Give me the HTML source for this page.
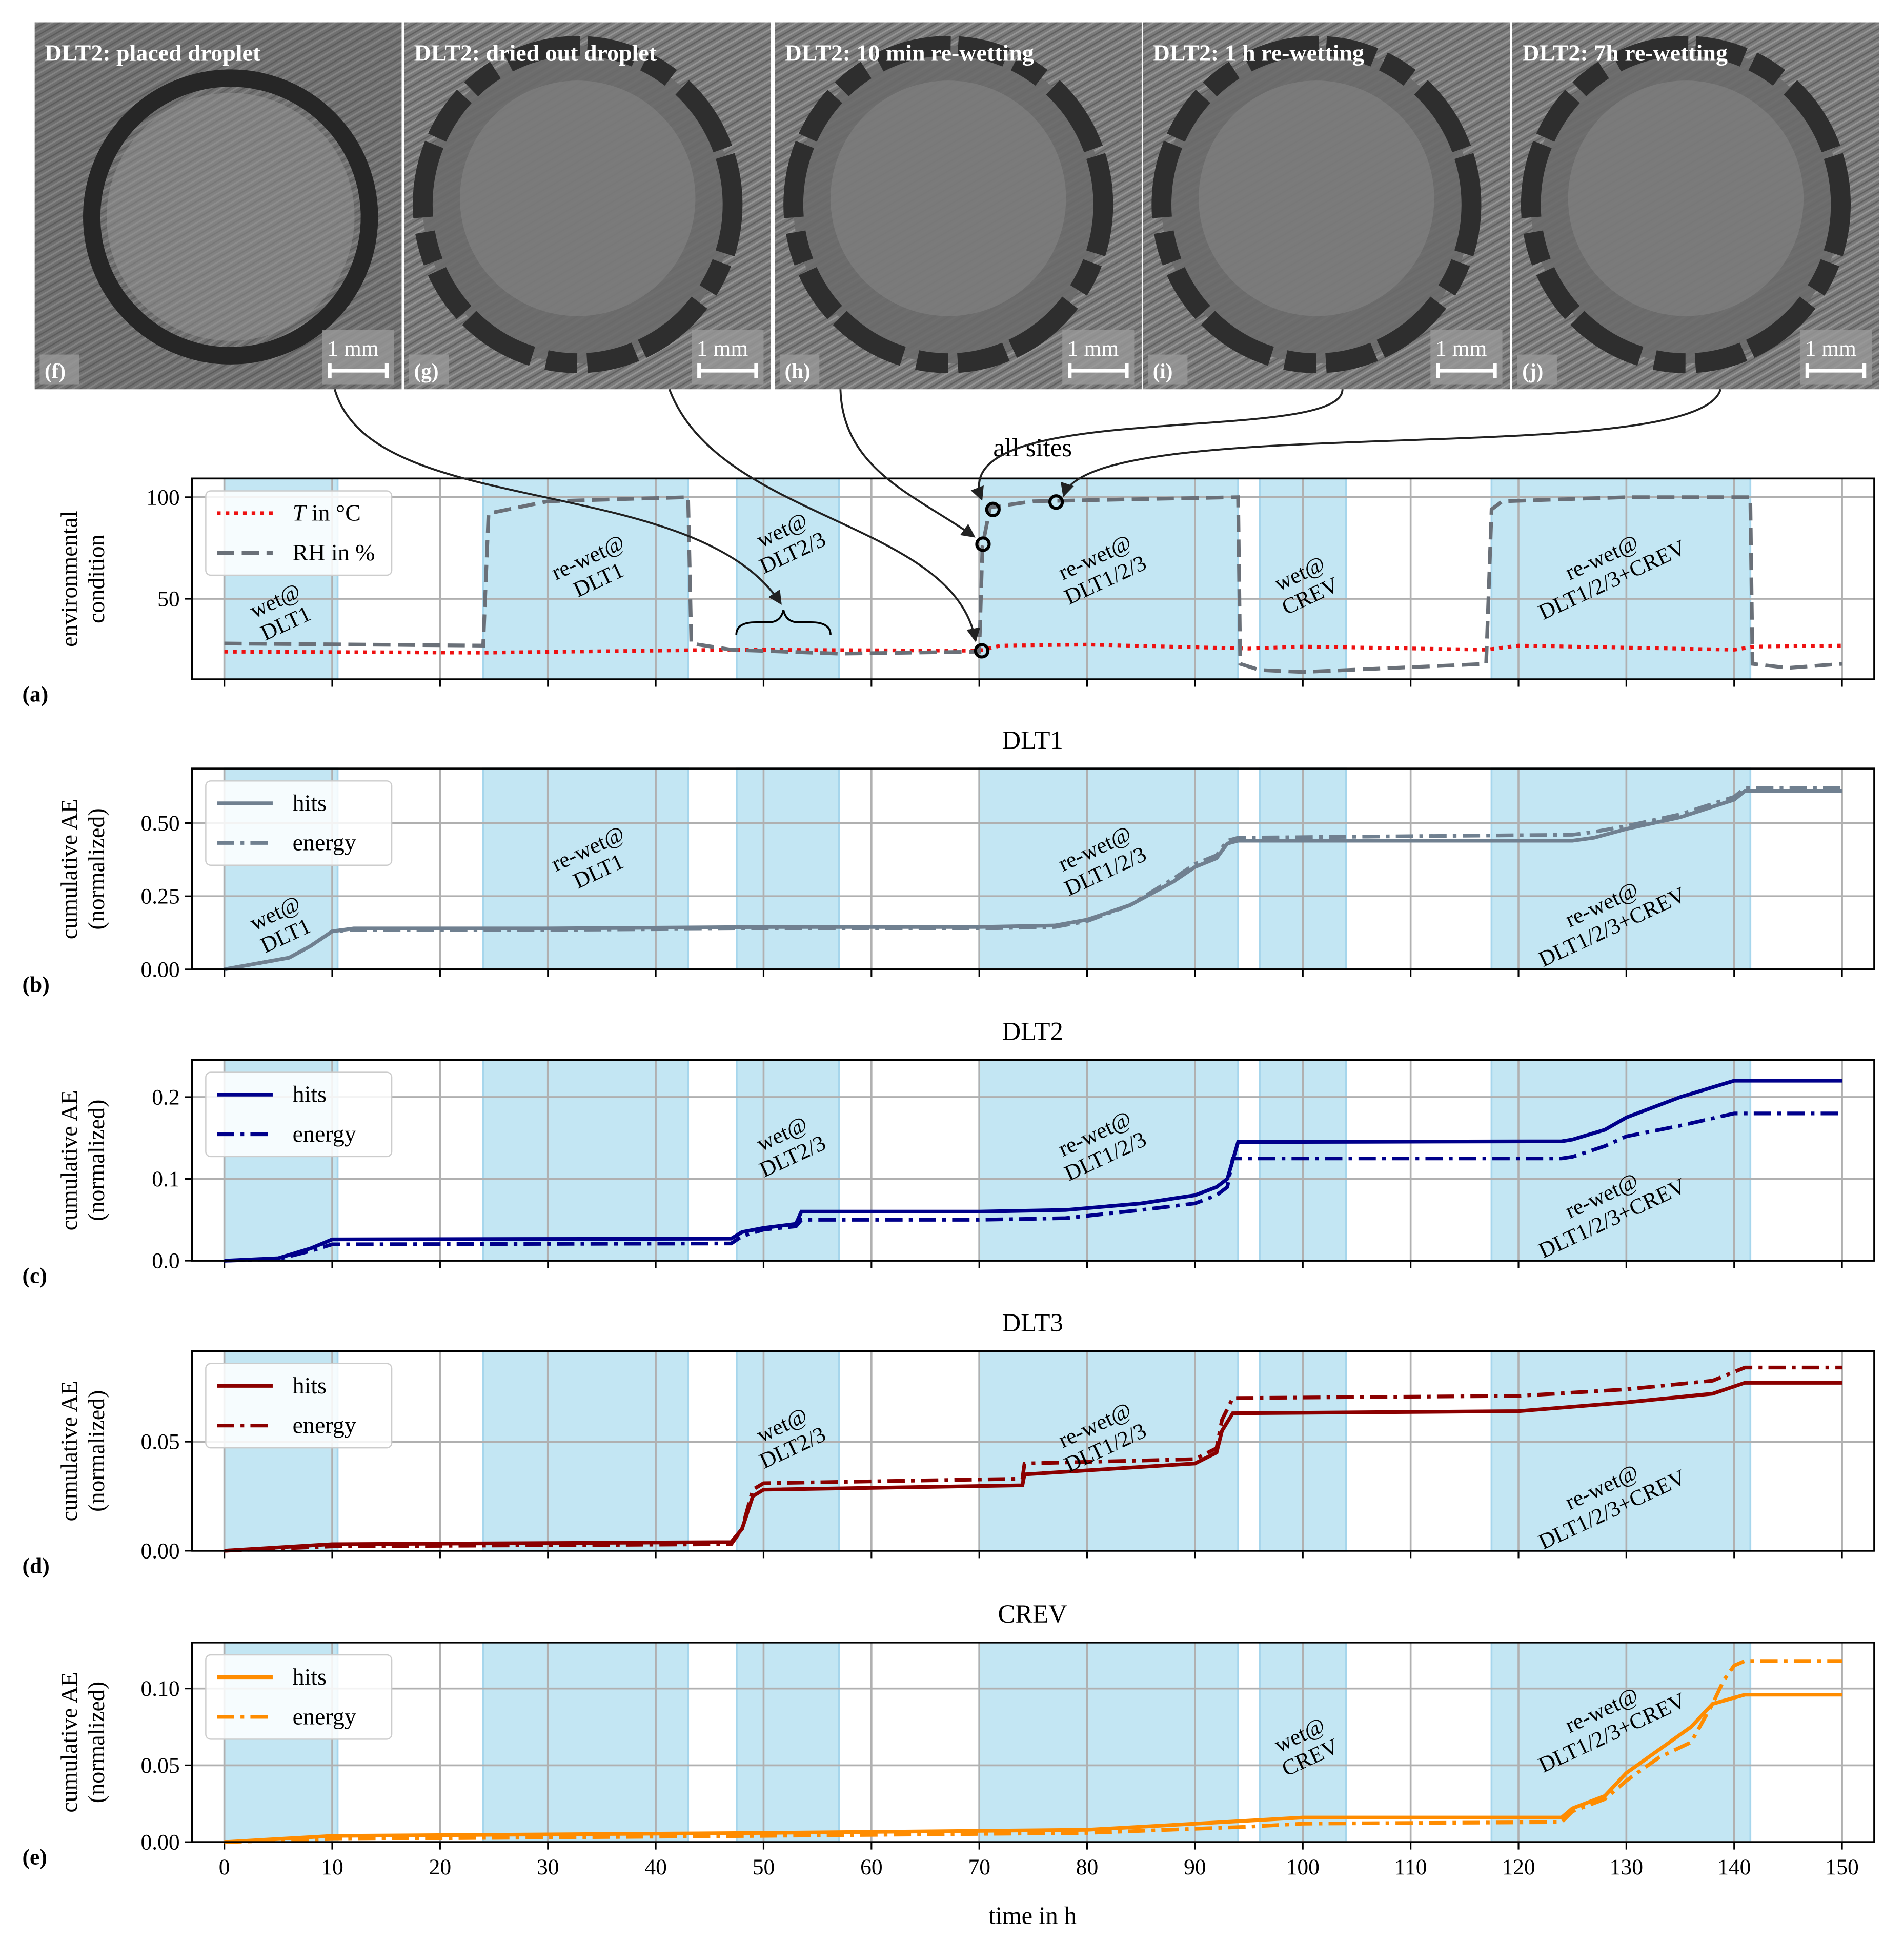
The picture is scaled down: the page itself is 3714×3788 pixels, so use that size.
<!DOCTYPE html>
<html><head><meta charset="utf-8"><style>
html,body{margin:0;padding:0;background:#fff}
svg{display:block;font-family:"Liberation Serif",serif}
</style></head><body>
<svg id="fig" xmlns="http://www.w3.org/2000/svg" width="3714" height="3788" viewBox="0 0 1536 1566.6">
<defs>
<pattern id="scr" width="6" height="6" patternUnits="userSpaceOnUse" patternTransform="rotate(-30)"><rect width="6" height="6" fill="#7a7a7a"/><line x1="0" y1="1" x2="6" y2="1" stroke="#959595" stroke-width="1.2"/><line x1="0" y1="4" x2="6" y2="4" stroke="#5e5e5e" stroke-width="1"/></pattern>
<radialGradient id="dg" cx="45%" cy="45%" r="55%"><stop offset="0" stop-color="#8a8a8a"/><stop offset="0.75" stop-color="#555"/><stop offset="1" stop-color="#2a2a2a"/></radialGradient>
<marker id="ah" viewBox="0 0 10 10" refX="9" refY="5" markerWidth="7" markerHeight="7" orient="auto"><path d="M0 0L10 5L0 10z" fill="#222"/></marker>
</defs>
<g id="photos"></g>
<g id="plots"></g>
</svg>
<script>
// ---------- data ----------
const xTicks=[0,10,20,30,40,50,60,70,80,90,100,110,120,130,140,150];
const spans=[[0,10.5],[24,43],[47.5,57],[70,94],[96,104],[117.5,141.5]];
const tT=[0,24,47,70,72,80,95,100,117,120,140,142,150];
const vT=[24,23.5,25,24.5,27,27.5,25.5,26.5,25,27,25,26.5,27];
const tRH=[0,24,24.5,30,43,43.3,47,57,70,70.3,71,75,94,94.2,96,100,117,117.5,118.5,130,141.5,141.7,145,150];
const vRH=[28,27,92,98,100,28,25,23,24,76,95,98,100,18,15,14,18,94,98,100,100,18,16,18];
const tB1=[0,3,6,8,10,12,30,50,70,77,80,84,88,90,92,93,94,125,127,130,135,140,141,150];
const vB1=[0,0.02,0.04,0.08,0.13,0.14,0.14,0.145,0.145,0.15,0.17,0.22,0.3,0.35,0.38,0.43,0.44,0.44,0.45,0.48,0.52,0.58,0.61,0.61];
const vB2=[0,0.02,0.04,0.08,0.13,0.135,0.135,0.14,0.14,0.145,0.165,0.22,0.31,0.36,0.39,0.44,0.45,0.46,0.47,0.49,0.53,0.59,0.62,0.62];
const tC1=[0,5,8,10,47,48,50,53,53.5,70,78,85,90,92,93,94,124,125,128,130,135,140,150];
const vC1=[0,0.003,0.015,0.026,0.027,0.035,0.04,0.045,0.06,0.06,0.062,0.07,0.08,0.09,0.1,0.145,0.146,0.148,0.16,0.175,0.2,0.22,0.22];
const tC2=[0,5,8,10,47,48,50,53,53.5,70,78,85,90,92,93,93.5,124,125,128,130,135,140,150];
const vC2=[0,0.002,0.012,0.02,0.021,0.03,0.038,0.042,0.05,0.05,0.052,0.062,0.07,0.08,0.09,0.125,0.125,0.127,0.14,0.152,0.165,0.18,0.18];
const tD=[0,10,47,48,49,50,74,74.2,90,92,92.5,93.5,120,130,138,141,150];
const vD1=[0,0.003,0.004,0.01,0.025,0.028,0.03,0.035,0.04,0.045,0.055,0.063,0.064,0.068,0.072,0.077,0.077];
const vD2=[0,0.002,0.003,0.01,0.028,0.031,0.033,0.04,0.042,0.047,0.06,0.07,0.071,0.074,0.078,0.084,0.084];
const tE1=[0,10,50,80,95,100,124,125,128,130,133,136,138,141,150];
const vE1=[0,0.004,0.006,0.008,0.014,0.016,0.016,0.022,0.03,0.045,0.06,0.075,0.09,0.096,0.096];
const tE2=[0,10,50,80,95,100,124,125,128,130,133,136,138,139,140,141,150];
const vE2=[0,0.002,0.004,0.006,0.01,0.012,0.013,0.02,0.028,0.04,0.055,0.065,0.09,0.105,0.115,0.118,0.118];

const NS="http://www.w3.org/2000/svg";
function mk(tag,attrs,parent,text){const e=document.createElementNS(NS,tag);for(const k in attrs)e.setAttribute(k,attrs[k]);if(text!==undefined)e.textContent=text;parent.appendChild(e);return e;}
const X0=155,X1=1512;
const xs=t=>181+(1486-181)*t/150;

// ---------- photos ----------
const ph=document.getElementById('photos');
const titles=["DLT2: placed droplet","DLT2: dried out droplet","DLT2: 10 min re-wetting","DLT2: 1 h re-wetting","DLT2: 7h re-wetting"];
const letters=["(f)","(g)","(h)","(i)","(j)"];
const pxs=[28,326,625,922,1220];
for(let i=0;i<5;i++){
  const g=mk('g',{},ph);
  
  
  const x=pxs[i],w=296;
  mk('rect',{x:x,y:18,width:w,height:296,fill:'url(#scr)'},g);
  if(i===0){mk('rect',{x:x,y:18,width:w,height:296,fill:'#555',opacity:0.25},g);
    mk('circle',{cx:x+158,cy:175,r:112,fill:'none',stroke:'#262626','stroke-width':14},g);
    mk('circle',{cx:x+158,cy:175,r:100,fill:'#9a9a9a',opacity:0.45},g);}
  else{
    mk('ellipse',{cx:x+140,cy:165,rx:125,ry:128,fill:'#6a6a6a',opacity:0.9},g);
    mk('ellipse',{cx:x+140,cy:160,rx:95,ry:95,fill:'#888',opacity:0.5},g);
    mk('ellipse',{cx:x+140,cy:165,rx:125,ry:128,fill:'none',stroke:'#2e2e2e','stroke-width':16,'stroke-dasharray':'40 8 25 12 60 6'},g);
  }
  mk('text',{x:x+8,y:49,fill:'#fff','font-size':19,'font-weight':'bold'},g,titles[i]);
  mk('rect',{x:x+4,y:286,width:32,height:24,fill:'#999',opacity:0.8},g);
  mk('text',{x:x+8,y:305,fill:'#fff','font-size':17,'font-weight':'bold'},g,letters[i]);
  mk('rect',{x:x+232,y:266,width:58,height:44,fill:'#999',opacity:0.8},g);
  mk('text',{x:x+236,y:287,fill:'#fff','font-size':18},g,'1 mm');
  mk('path',{d:`M${x+238} 299h46M${x+238} 293v12M${x+284} 293v12`,stroke:'#fff','stroke-width':3},g);
}

// ---------- plots ----------
const plots=document.getElementById('plots');
function panel(cfg){
  const g=mk('g',{},plots);
  
  
  const ys=v=>cfg.y1-(cfg.y1-cfg.y0)*(v-cfg.vmin)/(cfg.vmax-cfg.vmin);
  for(const s of spans){mk('rect',{x:xs(s[0]),y:cfg.y0,width:xs(s[1])-xs(s[0]),height:cfg.y1-cfg.y0,fill:'#c3e6f3',stroke:'#a6d6ec','stroke-width':1.5},g);}
  for(const t of xTicks){mk('line',{x1:xs(t),x2:xs(t),y1:cfg.y0,y2:cfg.y1,stroke:'#b0b0b0','stroke-width':1.5},g);
    mk('line',{x1:xs(t),x2:xs(t),y1:cfg.y1,y2:cfg.y1+6,stroke:'#000','stroke-width':1.3},g);}
  cfg.yt.forEach((v,i)=>{mk('line',{x1:X0,x2:X1,y1:ys(v),y2:ys(v),stroke:'#b0b0b0','stroke-width':1.5},g);
    mk('line',{x1:X0-6,x2:X0,y1:ys(v),y2:ys(v),stroke:'#000','stroke-width':1.3},g);
    mk('text',{x:X0-10,y:ys(v)+6,'text-anchor':'end','font-size':18},g,cfg.ytl[i]);});
  for(const s of cfg.series){
    const d=s.t.map((t,i)=>(i?'L':'M')+xs(t).toFixed(1)+' '+ys(s.v[i]).toFixed(1)).join('');
    const p=mk('path',{d:d,fill:'none',stroke:s.c,'stroke-width':3,'stroke-dasharray':s.da||'none'},g);
    
    
  }
  mk('rect',{x:X0,y:cfg.y0,width:X1-X0,height:cfg.y1-cfg.y0,fill:'none',stroke:'#000','stroke-width':1.5},g);
  if(cfg.title)mk('text',{x:833,y:cfg.y0-16,'text-anchor':'middle','font-size':21},g,cfg.title);
  const yl=(cfg.y0+cfg.y1)/2;
  mk('text',{x:0,y:0,transform:`translate(62,${yl}) rotate(-90)`,'text-anchor':'middle','font-size':19},g,cfg.yl1);
  mk('text',{x:0,y:0,transform:`translate(84,${yl}) rotate(-90)`,'text-anchor':'middle','font-size':19},g,cfg.yl2);
  mk('text',{x:18,y:cfg.y1+18,'font-size':18,'font-weight':'bold'},g,cfg.letter);
  const lg=mk('g',{},g);
  
  
  mk('rect',{x:166,y:cfg.y0+10,width:150,height:68,rx:4,fill:'#fff','fill-opacity':0.85,stroke:'#ccc'},lg);
  cfg.series.forEach((s,i)=>{const yy=cfg.y0+28+i*32;
    mk('line',{x1:175,x2:220,y1:yy,y2:yy,stroke:s.c,'stroke-width':3,'stroke-dasharray':s.da||'none'},lg);
    mk('text',{x:236,y:yy+6,'font-size':19},lg,s.lab);});
  for(const a of cfg.ann){
    const tx=mk('text',{transform:`translate(${xs(a[0])},${a[1]}) rotate(-25)`,'text-anchor':'middle','font-size':18},g);
    mk('tspan',{x:0,dy:0},tx,a[2]);mk('tspan',{x:0,dy:20},tx,a[3]);
  }
  if(cfg.xlabels){for(const t of xTicks)mk('text',{x:xs(t),y:cfg.y1+26,'text-anchor':'middle','font-size':18},g,String(t));
    mk('text',{x:833,y:cfg.y1+66,'text-anchor':'middle','font-size':20},g,'time in h');}
  return g;
}
const A1=[[5,490,'wet@','DLT1'],[34,455,'re-wet@','DLT1'],[52,433,'wet@','DLT2/3'],[81,455,'re-wet@','DLT1/2/3'],[100,468,'wet@','CREV'],[128,455,'re-wet@','DLT1/2/3+CREV']];
const ga=panel({name:'panel-a-environment',y0:386,y1:548,vmin:10.4,vmax:109.2,yt:[50,100],ytl:['50','100'],yl1:'environmental',yl2:'condition',letter:'(a)',
  series:[{t:tT,v:vT,c:'#ee1111',da:'3 4',lab:'T in °C',nm:'temperature-line'},{t:tRH,v:vRH,c:'#6a7078',da:'14 6',lab:'RH in %',nm:'rh-line'}],ann:A1});
ga.querySelectorAll('text').forEach(t=>{if(t.textContent==='T in °C'){t.textContent='';mk('tspan',{'font-style':'italic'},t,'T');mk('tspan',{},t,' in °C');}});
mk('text',{x:833,y:368,'text-anchor':'middle','font-size':21},ga,'all sites');
[[792,525],[793,439],[801,411],[852,405]].forEach(c=>mk('circle',{cx:c[0],cy:c[1],r:5,fill:'none',stroke:'#000','stroke-width':2.5},ga));
const arr=[[270,314,'C 300,420 560,380 630,487'],[540,314,'C 580,420 770,420 787,517'],[678,314,'C 680,380 740,400 786,433'],[1083,314,'C 1083,360 760,320 792,403'],[1388,314,'C 1370,380 880,330 858,400']];
arr.forEach(a=>{mk('path',{d:`M${a[0]} ${a[1]} ${a[2]}`,fill:'none',stroke:'#222','stroke-width':1.6,'marker-end':'url(#ah)'},ga);});
mk('path',{d:'M594 512 q0 -10 16 -10 h10 q10 0 12 -10 q2 10 12 10 h10 q16 0 16 10',fill:'none',stroke:'#000','stroke-width':1.5},ga);

const A2=[[5,742,'wet@','DLT1'],[34,690,'re-wet@','DLT1'],[81,690,'re-wet@','DLT1/2/3'],[128,735,'re-wet@','DLT1/2/3+CREV']];
panel({name:'panel-b-dlt1',y0:620,y1:782,vmin:0,vmax:0.6864,yt:[0,0.25,0.5],ytl:['0.00','0.25','0.50'],yl1:'cumulative AE',yl2:'(normalized)',letter:'(b)',title:'DLT1',
  series:[{t:tB1,v:vB1,c:'#708090',lab:'hits',nm:'dlt1-hits-line'},{t:tB1,v:vB2,c:'#708090',da:'14 5 3 5',lab:'energy',nm:'dlt1-energy-line'}],ann:A2});
const A3=[[52,920,'wet@','DLT2/3'],[81,920,'re-wet@','DLT1/2/3'],[128,970,'re-wet@','DLT1/2/3+CREV']];
panel({name:'panel-c-dlt2',y0:855,y1:1017,vmin:0,vmax:0.2455,yt:[0,0.1,0.2],ytl:['0.0','0.1','0.2'],yl1:'cumulative AE',yl2:'(normalized)',letter:'(c)',title:'DLT2',
  series:[{t:tC1,v:vC1,c:'#00008b',lab:'hits',nm:'dlt2-hits-line'},{t:tC2,v:vC2,c:'#00008b',da:'14 5 3 5',lab:'energy',nm:'dlt2-energy-line'}],ann:A3});
const A4=[[52,1155,'wet@','DLT2/3'],[81,1155,'re-wet@','DLT1/2/3'],[128,1205,'re-wet@','DLT1/2/3+CREV']];
panel({name:'panel-d-dlt3',y0:1090,y1:1251,vmin:0,vmax:0.0915,yt:[0,0.05],ytl:['0.00','0.05'],yl1:'cumulative AE',yl2:'(normalized)',letter:'(d)',title:'DLT3',
  series:[{t:tD,v:vD1,c:'#8b0000',lab:'hits',nm:'dlt3-hits-line'},{t:tD,v:vD2,c:'#8b0000',da:'14 5 3 5',lab:'energy',nm:'dlt3-energy-line'}],ann:A4});
const A5=[[100,1405,'wet@','CREV'],[128,1385,'re-wet@','DLT1/2/3+CREV']];
panel({name:'panel-e-crev',y0:1325,y1:1486,vmin:0,vmax:0.13,yt:[0,0.05,0.1],ytl:['0.00','0.05','0.10'],yl1:'cumulative AE',yl2:'(normalized)',letter:'(e)',title:'CREV',xlabels:true,
  series:[{t:tE1,v:vE1,c:'#ff8c00',lab:'hits',nm:'crev-hits-line'},{t:tE2,v:vE2,c:'#ff8c00',da:'14 5 3 5',lab:'energy',nm:'crev-energy-line'}],ann:A5});
</script>
</body></html>
